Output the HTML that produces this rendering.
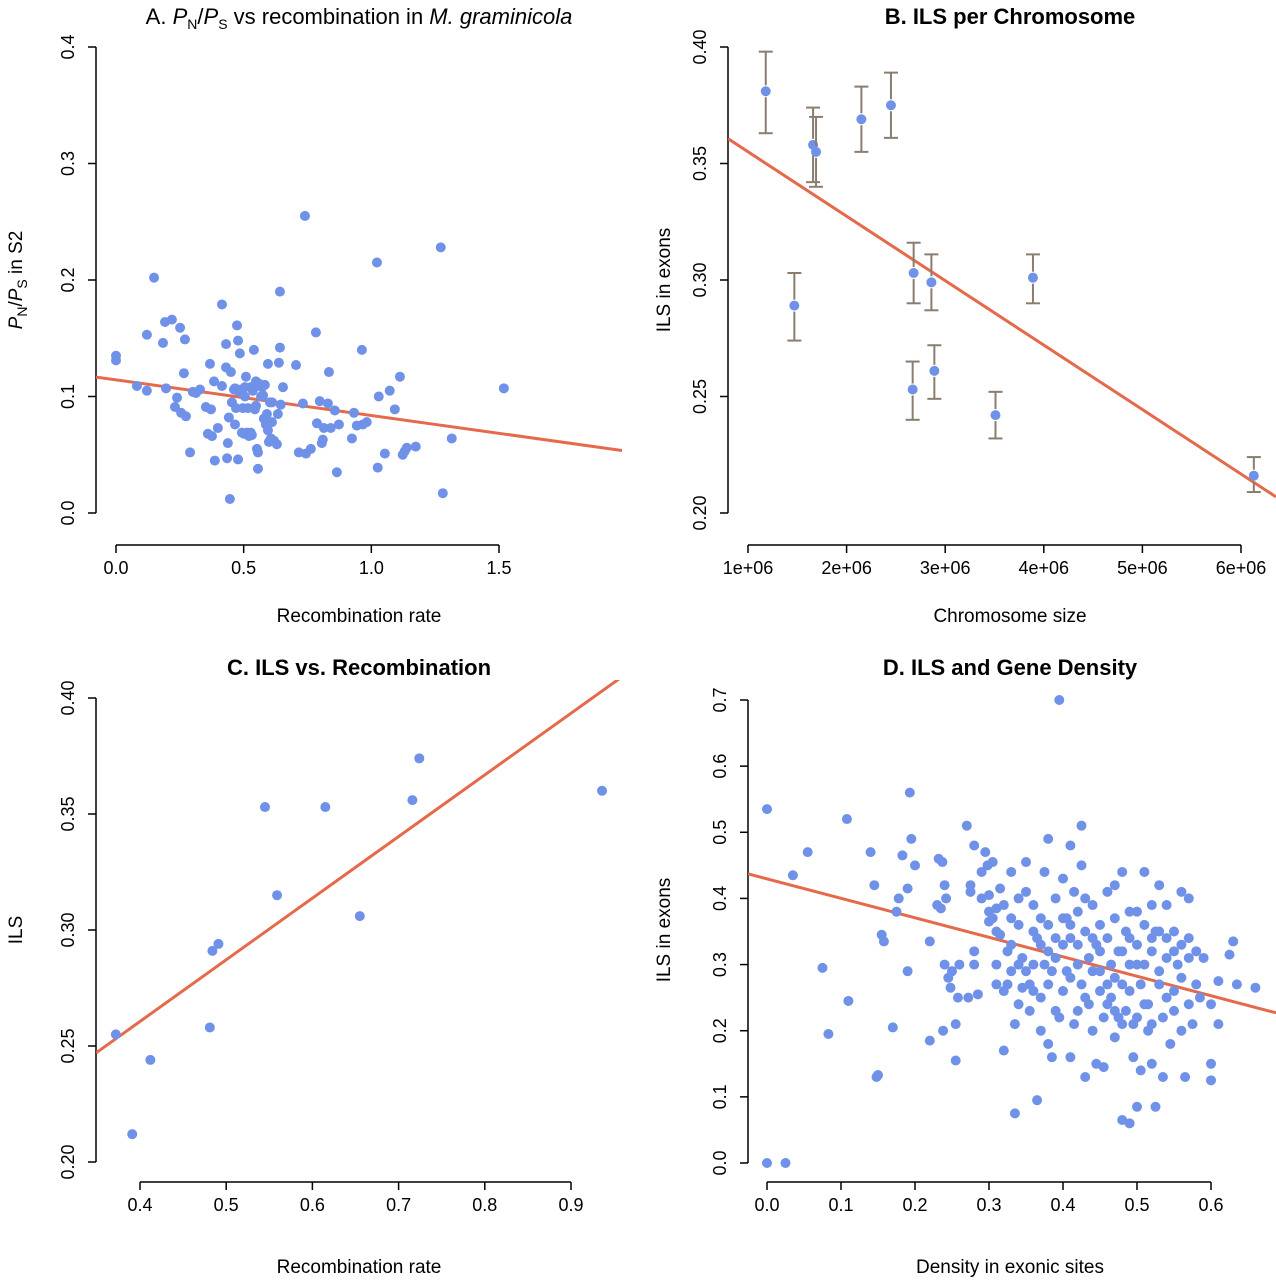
<!DOCTYPE html>
<html><head><meta charset="utf-8"><style>
html,body{margin:0;padding:0;background:#fff;}
svg{display:block;font-family:"Liberation Sans",Arial,sans-serif;}
</style></head><body>
<svg id="fig" width="1276" height="1280" viewBox="0 0 1276 1280" xmlns="http://www.w3.org/2000/svg"></svg>
<script>
// ---------- Panel A data ----------
const aPts=[[0,0.135],[0,0.131],[0.082,0.109],[0.121,0.105],[0.121,0.153],[0.149,0.202],[0.184,0.146],[0.192,0.164],[0.196,0.107],[0.219,0.166],[0.231,0.091],[0.239,0.099],[0.251,0.159],[0.255,0.086],[0.27,0.149],[0.274,0.083],[0.266,0.12],[0.29,0.052],[0.301,0.104],[0.313,0.103],[0.329,0.106],[0.352,0.091],[0.36,0.068],[0.368,0.128],[0.372,0.089],[0.376,0.066],[0.384,0.113],[0.387,0.045],[0.399,0.073],[0.415,0.109],[0.415,0.179],[0.431,0.125],[0.431,0.145],[0.435,0.047],[0.438,0.06],[0.442,0.082],[0.446,0.012],[0.45,0.121],[0.454,0.095],[0.462,0.106],[0.466,0.107],[0.466,0.076],[0.47,0.09],[0.474,0.161],[0.478,0.046],[0.478,0.148],[0.481,0.104],[0.485,0.137],[0.489,0.106],[0.493,0.069],[0.497,0.09],[0.501,0.068],[0.505,0.1],[0.505,0.108],[0.509,0.117],[0.513,0.069],[0.517,0.09],[0.521,0.066],[0.528,0.108],[0.528,0.069],[0.532,0.067],[0.536,0.105],[0.54,0.14],[0.544,0.089],[0.548,0.092],[0.548,0.113],[0.552,0.055],[0.556,0.052],[0.556,0.038],[0.56,0.111],[0.564,0.109],[0.568,0.1],[0.572,0.108],[0.576,0.101],[0.579,0.081],[0.583,0.11],[0.587,0.076],[0.591,0.085],[0.595,0.071],[0.595,0.128],[0.599,0.061],[0.603,0.095],[0.607,0.064],[0.611,0.078],[0.611,0.095],[0.619,0.062],[0.63,0.059],[0.634,0.085],[0.638,0.129],[0.642,0.142],[0.645,0.093],[0.654,0.108],[0.642,0.19],
[0.705,0.127],[0.716,0.052],[0.732,0.094],[0.74,0.255],[0.744,0.051],[0.763,0.055],[0.783,0.155],[0.787,0.077],[0.798,0.096],[0.806,0.06],[0.81,0.063],[0.814,0.073],[0.83,0.094],[0.834,0.121],[0.841,0.073],[0.857,0.088],[0.865,0.035],[0.873,0.076],[0.924,0.064],[0.932,0.086],[0.943,0.075],[0.963,0.14],[0.967,0.076],[0.982,0.078],[1.022,0.215],[1.025,0.039],[1.029,0.1],[1.053,0.051],[1.072,0.105],[1.092,0.089],[1.112,0.117],[1.123,0.05],[1.131,0.053],[1.139,0.056],[1.174,0.057],[1.272,0.228],[1.28,0.017],[1.315,0.064],[1.519,0.107]];
const aFit=[0.1143,-0.0306];
const aXTicks=[0,0.5,1.0,1.5], aXTickLabels=["0.0","0.5","1.0","1.5"];
const aYTicks=[0,0.1,0.2,0.3,0.4], aYTickLabels=["0.0","0.1","0.2","0.3","0.4"];

// ---------- Panel B data ----------
const bX=[1.18e6,1.66e6,1.69e6,2.15e6,2.45e6,1.47e6,2.68e6,2.86e6,2.67e6,2.89e6,3.51e6,3.89e6,6.13e6];
const bY=[0.381,0.358,0.355,0.369,0.375,0.289,0.303,0.299,0.253,0.261,0.242,0.301,0.216];
const bLo=[0.363,0.342,0.340,0.355,0.361,0.274,0.290,0.287,0.240,0.249,0.232,0.290,0.209];
const bHi=[0.398,0.374,0.370,0.383,0.389,0.303,0.316,0.311,0.265,0.272,0.252,0.311,0.224];
const bFit=[0.3827,-2.766e-8];
const bXTicks=[1e6,2e6,3e6,4e6,5e6,6e6], bXTickLabels=["1e+06","2e+06","3e+06","4e+06","5e+06","6e+06"];
const bYTicks=[0.2,0.25,0.3,0.35,0.4], bYTickLabels=["0.20","0.25","0.30","0.35","0.40"];

// ---------- Panel C data ----------
const cX=[0.372,0.391,0.412,0.481,0.484,0.491,0.545,0.559,0.615,0.655,0.716,0.724,0.936];
const cY=[0.255,0.212,0.244,0.258,0.291,0.294,0.353,0.315,0.353,0.306,0.356,0.374,0.360];
const cFit=[0.1543,0.2657];
const cXTicks=[0.4,0.5,0.6,0.7,0.8,0.9], cXTickLabels=["0.4","0.5","0.6","0.7","0.8","0.9"];
const cYTicks=[0.2,0.25,0.3,0.35,0.4], cYTickLabels=["0.20","0.25","0.30","0.35","0.40"];

// ---------- Panel D data ----------
const dPts=[[0,0.535],[0,0],[0.025,0],[0.035,0.435],[0.055,0.47],[0.075,0.295],[0.083,0.195],[0.108,0.52],[0.11,0.245],[0.14,0.47],[0.145,0.42],[0.148,0.13],[0.15,0.133],[0.155,0.345],[0.158,0.335],[0.17,0.205],[0.175,0.38],[0.178,0.4],[0.183,0.465],[0.19,0.29],[0.19,0.415],[0.193,0.56],[0.195,0.49],[0.2,0.45],[0.22,0.185],[0.22,0.335],[0.23,0.39],[0.232,0.46],[0.235,0.385],[0.237,0.455],[0.238,0.2],[0.24,0.3],[0.24,0.42],[0.242,0.4],[0.245,0.28],[0.248,0.265],[0.25,0.29],[0.255,0.155],[0.255,0.21],[0.258,0.25],[0.27,0.51],[0.272,0.25],[0.275,0.41],[0.275,0.42],[0.28,0.48],[0.28,0.32],[0.285,0.255],[0.29,0.44],[0.295,0.47],[0.298,0.45],[0.3,0.38],[0.3,0.405],[0.3,0.365],[0.305,0.455],[0.305,0.37],[0.31,0.3],[0.31,0.385],[0.315,0.345],[0.315,0.415],[0.32,0.17],[0.32,0.26],[0.325,0.27],[0.325,0.32],[0.33,0.44],[0.33,0.37],[0.335,0.21],[0.335,0.075],[0.34,0.4],[0.34,0.3],[0.345,0.31],[0.345,0.265],[0.35,0.455],[0.35,0.41],[0.355,0.27],[0.355,0.23],[0.36,0.39],[0.36,0.35],[0.365,0.095],[0.365,0.34],[0.37,0.2],[0.37,0.25],[0.375,0.3],[0.375,0.44],[0.38,0.49],[0.38,0.36],[0.38,0.18],[0.385,0.16],[0.385,0.29],[0.39,0.31],[0.39,0.4],[0.395,0.7],[0.395,0.22],[0.4,0.33],[0.4,0.26],[0.4,0.43],[0.405,0.29],[0.405,0.37],[0.41,0.16],[0.41,0.48],[0.41,0.34],[0.415,0.21],[0.415,0.41],[0.42,0.3],[0.42,0.38],[0.425,0.45],[0.425,0.51],[0.425,0.27],[0.43,0.13],[0.43,0.35],[0.435,0.24],[0.435,0.31],[0.44,0.39],[0.44,0.2],[0.445,0.33],[0.445,0.15],[0.45,0.29],[0.45,0.36],[0.455,0.22],[0.455,0.145],[0.46,0.41],[0.46,0.34],[0.465,0.25],[0.465,0.3],[0.47,0.37],[0.47,0.19],[0.475,0.22],[0.475,0.32],[0.48,0.065],[0.48,0.44],[0.48,0.27],[0.485,0.35],[0.485,0.23],[0.49,0.06],[0.49,0.38],[0.49,0.3],[0.495,0.16],[0.495,0.21],[0.5,0.085],[0.5,0.33],[0.505,0.14],[0.505,0.27],[0.51,0.44],[0.51,0.36],[0.515,0.2],[0.515,0.24],[0.52,0.32],[0.52,0.15],[0.525,0.085],[0.525,0.35],[0.53,0.42],[0.53,0.27],[0.535,0.22],[0.535,0.13],[0.54,0.39],[0.54,0.31],[0.545,0.18],[0.55,0.35],[0.55,0.26],[0.555,0.3],[0.56,0.41],[0.56,0.2],[0.565,0.13],[0.57,0.4],[0.57,0.34],[0.575,0.21],[0.58,0.32],[0.585,0.25],[0.59,0.31],[0.6,0.24],[0.6,0.125],[0.6,0.15],[0.61,0.21],[0.61,0.275],[0.625,0.315],[0.63,0.335],[0.635,0.27],[0.66,0.265],
[0.29,0.4],[0.31,0.35],[0.33,0.33],[0.34,0.36],[0.35,0.29],[0.36,0.3],[0.37,0.33],[0.38,0.27],[0.39,0.34],[0.4,0.37],[0.41,0.28],[0.42,0.33],[0.43,0.25],[0.44,0.34],[0.45,0.32],[0.46,0.27],[0.47,0.23],[0.48,0.32],[0.49,0.26],[0.5,0.3],[0.51,0.24],[0.52,0.34],[0.53,0.29],[0.54,0.25],[0.55,0.32],[0.56,0.28],[0.57,0.31],[0.58,0.27],[0.44,0.29],[0.46,0.24],[0.48,0.21],[0.5,0.22],[0.52,0.21],[0.42,0.23],[0.38,0.32],[0.36,0.26],[0.34,0.24],[0.32,0.39],[0.45,0.26],[0.47,0.28],[0.49,0.34],[0.51,0.3],[0.53,0.35],[0.55,0.23],[0.57,0.24],[0.43,0.4],[0.41,0.36],[0.39,0.23],[0.37,0.37],[0.47,0.42],[0.5,0.38],[0.52,0.39],[0.54,0.34],[0.56,0.33],[0.33,0.29],[0.31,0.27],[0.28,0.3],[0.26,0.3]];
const dFit=[0.4296,-0.2945];
const dXTicks=[0,0.1,0.2,0.3,0.4,0.5,0.6], dXTickLabels=["0.0","0.1","0.2","0.3","0.4","0.5","0.6"];
const dYTicks=[0,0.1,0.2,0.3,0.4,0.5,0.6,0.7], dYTickLabels=["0.0","0.1","0.2","0.3","0.4","0.5","0.6","0.7"];

const NS="http://www.w3.org/2000/svg";
const svg=document.getElementById('fig');
const DOT="#6f91e8", LINE="#e56a4c", ERR="#8a7d70";
function el(tag,attrs,parent){const e=document.createElementNS(NS,tag);for(const k in attrs)e.setAttribute(k,attrs[k]);(parent||svg).appendChild(e);return e;}
function lin(d0,d1,p0,p1){return v=>p0+(v-d0)*(p1-p0)/(d1-d0);}

function panel(id,cfg){
  const g=el('g',{});
  
  
  const sx=cfg.sx, sy=cfg.sy;
  const cp=el('clipPath',{id:id+'clip'},g);
  el('rect',{x:cfg.box[0],y:cfg.box[1],width:cfg.box[2]-cfg.box[0],height:cfg.box[3]-cfg.box[1]},cp);
  const xa=el('g',{},g);
  
  
  const xt=cfg.xt;
  el('line',{x1:sx(xt[0]),x2:sx(xt[xt.length-1]),y1:cfg.axY,y2:cfg.axY,stroke:'#000','stroke-width':1.5},xa);
  xt.forEach((t,i)=>{
    el('line',{x1:sx(t),x2:sx(t),y1:cfg.axY,y2:cfg.axY+8,stroke:'#000','stroke-width':1.5},xa);
    const tx=el('text',{x:sx(t),y:cfg.axY+29,'text-anchor':'middle','font-size':18},xa);
    
    
    tx.textContent=cfg.xl[i];
  });
  const ya=el('g',{},g);
  
  
  const yt=cfg.yt;
  el('line',{x1:cfg.axX,x2:cfg.axX,y1:sy(yt[0]),y2:sy(yt[yt.length-1]),stroke:'#000','stroke-width':1.5},ya);
  yt.forEach((t,i)=>{
    el('line',{x1:cfg.axX-8,x2:cfg.axX,y1:sy(t),y2:sy(t),stroke:'#000','stroke-width':1.5},ya);
    const X=cfg.axX-22, Y=sy(t);
    const tx=el('text',{x:X,y:Y,'text-anchor':'middle','font-size':18,transform:`rotate(-90 ${X} ${Y})`},ya);
    
    
    tx.textContent=cfg.yl[i];
  });
  const f=cfg.fit, x0=sx.inv(cfg.box[0]), x1=sx.inv(cfg.box[2]);
  const fl=el('line',{x1:sx(x0),y1:sy(f[0]+f[1]*x0),x2:sx(x1),y2:sy(f[0]+f[1]*x1),stroke:LINE,'stroke-width':3,'clip-path':`url(#${id}clip)`},g);
  
  
  return g;
}
function mk(d0,d1,p0,p1){const f=lin(d0,d1,p0,p1);f.inv=lin(p0,p1,d0,d1);return f;}
function dot(g,x,y,name){const c=el('circle',{cx:x,cy:y,r:5,fill:DOT},g);}
function label(txt,x,y,opts){const t=el('text',Object.assign({x:x,y:y,'text-anchor':'middle','font-size':19},opts||{}));t.innerHTML=txt;return t;}

// Panel A
const sxA=mk(0,1.5,116,499), syA=mk(0,0.4,513,47);
const gA=panel('a',{sx:sxA,sy:syA,xt:aXTicks,xl:aXTickLabels,yt:aYTicks,yl:aYTickLabels,axX:96,axY:545,box:[96,28,622,532],fit:aFit});
aPts.forEach(p=>dot(gA,sxA(p[0]),syA(p[1]),'point-a'));
let t=label('A. <tspan font-style="italic">P</tspan><tspan font-size="14" dy="5">N</tspan><tspan dy="-5">/</tspan><tspan font-style="italic">P</tspan><tspan font-size="14" dy="5">S</tspan><tspan dy="-5"> vs recombination in </tspan><tspan font-style="italic">M. graminicola</tspan>',359,24,{'font-size':22});

t=label('Recombination rate',359,622);
t=label('<tspan font-style="italic">P</tspan><tspan font-size="14" dy="5">N</tspan><tspan dy="-5">/</tspan><tspan font-style="italic">P</tspan><tspan font-size="14" dy="5">S</tspan><tspan dy="-5"> in S2</tspan>',22,280,{transform:'rotate(-90 22 280)'});


// Panel B
const sxB=mk(1e6,6e6,748,1241), syB=mk(0.2,0.4,513,47);
const gB=panel('b',{sx:sxB,sy:syB,xt:bXTicks,xl:bXTickLabels,yt:bYTicks,yl:bYTickLabels,axX:728,axY:545,box:[728,28,1276,532],fit:bFit});
bX.forEach((x,i)=>{
  const px=sxB(x);
  const eb=el('g',{stroke:ERR,'stroke-width':2,fill:'none'},gB);
  
  
  el('line',{x1:px,x2:px,y1:syB(bHi[i]),y2:syB(bY[i])-6},eb);
  el('line',{x1:px,x2:px,y1:syB(bY[i])+6,y2:syB(bLo[i])},eb);
  el('line',{x1:px-7,x2:px+7,y1:syB(bHi[i]),y2:syB(bHi[i])},eb);
  el('line',{x1:px-7,x2:px+7,y1:syB(bLo[i]),y2:syB(bLo[i])},eb);
  dot(gB,px,syB(bY[i]),'point-b');
});
t=label('B. ILS per Chromosome',1010,24,{'font-size':22,'font-weight':'bold'});
t=label('Chromosome size',1010,622);
t=label('ILS in exons',670,280,{transform:'rotate(-90 670 280)'});

// Panel C
const sxC=mk(0.4,0.9,140,571), syC=mk(0.2,0.4,1162,698);
const gC=panel('c',{sx:sxC,sy:syC,xt:cXTicks,xl:cXTickLabels,yt:cYTicks,yl:cYTickLabels,axX:96,axY:1182,box:[96,680,622,1182],fit:cFit});
cX.forEach((x,i)=>dot(gC,sxC(x),syC(cY[i]),'point-c'));
t=label('C. ILS vs. Recombination',359,675,{'font-size':22,'font-weight':'bold'});
t=label('Recombination rate',359,1273);
t=label('ILS',22,930,{transform:'rotate(-90 22 930)'});

// Panel D
const sxD=mk(0,0.6,767,1211), syD=mk(0,0.7,1163,700);
const gD=panel('d',{sx:sxD,sy:syD,xt:dXTicks,xl:dXTickLabels,yt:dYTicks,yl:dYTickLabels,axX:748,axY:1182,box:[748,680,1276,1182],fit:dFit});
dPts.forEach(p=>dot(gD,sxD(p[0]),syD(p[1]),'point-d'));
t=label('D. ILS and Gene Density',1010,675,{'font-size':22,'font-weight':'bold'});
t=label('Density in exonic sites',1010,1273);
t=label('ILS in exons',670,930,{transform:'rotate(-90 670 930)'});
</script>
</body></html>
